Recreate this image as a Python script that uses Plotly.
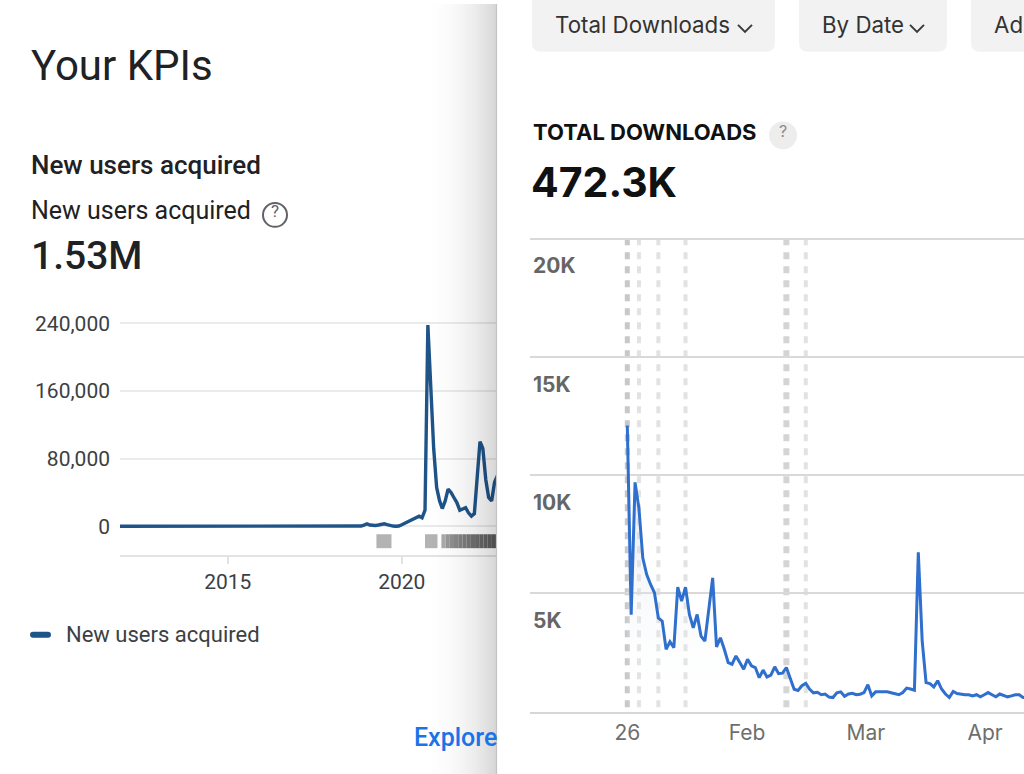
import plotly.graph_objects as go
import pandas as pd

W, H = 1024, 774
def X(px): return px / W
def Y(py): return 1 - py / H
def TY(py): return Y(py - 4)   # text boxes sit ~4px low with yanchor=middle

# ---------------- Left panel data: monthly new users acquired ----------------
nu_dates = ["2011-11-01", "2018-10-01", "2018-11-01", "2018-12-01",
            "2019-01-01", "2019-02-01", "2019-03-01", "2019-04-01", "2019-05-01", "2019-06-01",
            "2019-07-01", "2019-08-01", "2019-09-01", "2019-10-01", "2019-11-01", "2019-12-01",
            "2020-01-01", "2020-02-01", "2020-03-01", "2020-04-01", "2020-05-01", "2020-06-01",
            "2020-07-01", "2020-08-01", "2020-09-01", "2020-10-01", "2020-11-01", "2020-12-01",
            "2021-01-01", "2021-02-01", "2021-03-01", "2021-04-01", "2021-05-01", "2021-06-01",
            "2021-07-01", "2021-08-01", "2021-09-01", "2021-10-01", "2021-11-01", "2021-12-01",
            "2022-01-01", "2022-02-01", "2022-03-01", "2022-04-01", "2022-05-01", "2022-06-01",
            "2022-07-01", "2022-08-01", "2022-09-01", "2022-10-01"]
nu_values = [0, 0, 300, 1500,
             2800, 1500, 1000, 1000, 1500, 2200,
             3000, 2000, 900, 300, 0, 300,
             1800, 3500, 5000, 6500, 8500, 10500,
             12000, 10000, 19000, 238000, 160000, 92000,
             46000, 30000, 21000, 30000, 44000, 40000,
             34000, 28000, 19000, 20000, 22000, 16000,
             12000, 15000, 58000, 100000, 92000, 55000,
             34000, 30000, 52000, 60000]
nu_ytick_vals = [0, 80000, 160000, 240000]
nu_ytick_text = ["0", "80,000", "160,000", "240,000"]
nu_xtick_vals = ["2015-01-01", "2020-01-01"]
nu_xtick_text = ["2015", "2020"]
# data-quality marker bands under the chart
band_starts = ["2019-04-10", "2020-09-01"]
band_ends = ["2019-09-15", "2021-01-10"]
dark_band_start, dark_band_end = "2021-02-20", "2022-10-31"

# ---------------- Right panel data: daily total downloads ----------------
dl_values = [12100, 4100, 9700, 8600, 6500, 5800, 5380, 5030, 3970, 3830,
             2640, 2960, 2710, 5270, 4680, 5270, 4110, 3550, 4110, 3200,
             2990, 4300, 5660, 2740, 3130, 2640, 2080, 2010, 2360, 2080,
             1800, 2220, 1940, 1870, 1440, 1760, 1470, 1550, 1900, 1610,
             1630, 1870, 1400, 950, 900, 1100, 1200, 950, 800, 820,
             720, 750, 620, 600, 800, 840, 650, 750, 780, 720,
             740, 810, 1140, 670, 840, 840, 860, 840, 800, 770,
             720, 810, 1000, 960, 910, 6740, 3000, 1230, 1190, 1050,
             1310, 960, 750, 600, 860, 770, 740, 720, 720, 670,
             720, 630, 720, 810, 720, 630, 750, 700, 630, 670,
             720, 720, 600, 620]
dl_idx = list(range(len(dl_values)))
dl_tick_pos = [0, 30.85, 61.5, 92.2]
dl_tick_text = ["26", "Feb", "Mar", "Apr"]
dl_ytick_vals = [5000, 10000, 15000, 20000]
dl_ytick_text = ["5K", "10K", "15K", "20K"]
dl_events = [0, 3, 8, 15, 41, 46]

# ---------------- pixel geometry helpers ----------------
def nu_val(py): return (525 - py) * 80000 / 68.0
def nu_date(px):
    yr = 2020 + (px - 401.7) / 34.8
    return (pd.Timestamp("2020-01-01") + pd.Timedelta(days=(yr - 2020) * 365.25)).strftime("%Y-%m-%d")
def dl_val(py): return (711.4 - py) * 5000 / 118.85
def dl_x(px): return (px - 627.3) / 3.88

LEFT_FONT = "Roboto"
RIGHT_FONT = "Inter"

fig = go.Figure()
fig.add_trace(go.Scatter(x=nu_dates, y=nu_values, mode="lines",
                         line=dict(color="#1f5489", width=3.4),
                         xaxis="x", yaxis="y", hoverinfo="skip", showlegend=False))
fig.add_trace(go.Scatter(x=dl_idx, y=dl_values, mode="lines",
                         line=dict(color="#2f6fce", width=3),
                         fill="tozeroy",
                         fillgradient=dict(type="vertical", start=0, stop=9000,
                                           colorscale=[[0, "rgba(255,255,255,0)"],
                                                       [1, "rgba(205,215,230,0.45)"]]),
                         xaxis="x2", yaxis="y2", hoverinfo="skip", showlegend=False))

shapes = []
annotations = []

def ann(text, x, y, size, color, family, xanchor="left", weight=None, **kw):
    f = dict(family=family, size=size, color=color)
    if weight is not None:
        f["weight"] = weight
    d = dict(text=text, x=x, y=y, xref=kw.pop("xref", "paper"), yref=kw.pop("yref", "paper"),
             xanchor=xanchor, yanchor="middle", showarrow=False, font=f)
    d.update(kw)
    annotations.append(d)

# --- left: marker bands ---
for s, e in zip(band_starts, band_ends):
    shapes.append(dict(type="rect", xref="x", yref="paper", x0=s, x1=e,
                       y0=Y(547), y1=Y(533), fillcolor="#b3b3b3", line=dict(width=0), layer="above"))
ds, de = pd.Timestamp(dark_band_start), pd.Timestamp(dark_band_end)
nseg = 14
for k in range(nseg):
    a = ds + (de - ds) * k / nseg
    b = ds + (de - ds) * (k + 1) / nseg
    g = int(170 - 80 * min(1, (k / (nseg - 1)) ** 0.6))
    shapes.append(dict(type="rect", xref="x", yref="paper", x0=a, x1=b,
                       y0=Y(547), y1=Y(533), fillcolor=f"rgb({g},{g},{g})",
                       line=dict(width=0), layer="above"))

# --- right: event dashed lines ---
ev_styles = [("#c8c8c8", 5), ("#e2e2e2", 4), ("#e2e2e2", 4), ("#e2e2e2", 4), ("#d4d4d4", 6), ("#e2e2e2", 4)]
for e, (c, w) in zip(dl_events, ev_styles):
    shapes.append(dict(type="line", xref="x2", yref="paper", x0=e, x1=e,
                       y0=Y(707), y1=Y(237), line=dict(color=c, width=w, dash="7px,7px"),
                       layer="below"))

# --- right: buttons ---
def btn(x0, x1, y1=48, r=9):
    p = (f"M {X(x0)},{Y(-6)} L {X(x0)},{Y(y1 - r)} Q {X(x0)},{Y(y1)} {X(x0 + r)},{Y(y1)} "
         f"L {X(x1 - r)},{Y(y1)} Q {X(x1)},{Y(y1)} {X(x1)},{Y(y1 - r)} L {X(x1)},{Y(-6)} Z")
    return dict(type="path", xref="paper", yref="paper", path=p,
                fillcolor="#f2f2f2", line=dict(width=0), layer="below")
shapes += [btn(532, 775), btn(799, 947), btn(971, 1060)]
def chevron(cx):
    p = f"M {X(cx - 7)},{Y(21)} L {X(cx)},{Y(28)} L {X(cx + 7)},{Y(21)}"
    return dict(type="path", xref="paper", yref="paper", path=p,
                line=dict(color="#3a3a3a", width=2), layer="above")
shapes += [chevron(745), chevron(917)]
ann("Total Downloads", X(553), TY(25), 22.3, "#333333", RIGHT_FONT)
ann("By Date", X(820), TY(25), 22.3, "#333333", RIGHT_FONT)
ann("Ad", X(992), TY(25), 22.3, "#333333", RIGHT_FONT)

# --- right header ---
ann("<b>TOTAL DOWNLOADS</b>", X(531), TY(133), 22, "#111111", RIGHT_FONT)
shapes.append(dict(type="circle", xref="paper", yref="paper", x0=X(769), x1=X(797),
                   y0=Y(146), y1=Y(118), fillcolor="#ededed", line=dict(width=0)))
ann("?", X(783), TY(132), 16, "#8a8a8a", RIGHT_FONT, xanchor="center")
ann("<b>472.3K</b>", X(529), TY(183), 41, "#111111", RIGHT_FONT)
for v, t in zip(dl_ytick_vals, dl_ytick_text):
    ann(f"<b>{t}</b>", X(531), v, 21, "#666666", RIGHT_FONT, yref="y2", yshift=-27)

# --- left header ---
ann("Your KPIs", X(29), TY(66), 42, "#202124", LEFT_FONT)
ann("New users acquired", X(29), TY(166), 26, "#202124", LEFT_FONT, weight=500)
ann("New users acquired", X(29), TY(212), 25, "#202124", LEFT_FONT)
shapes.append(dict(type="circle", xref="paper", yref="paper", x0=X(263), x1=X(287),
                   y0=Y(224), y1=Y(200), line=dict(color="#5f6368", width=2)))
ann("?", X(275), TY(212), 17, "#5f6368", LEFT_FONT, xanchor="center")
ann("1.53M", X(29), TY(257), 39, "#202124", LEFT_FONT, weight=500)
# legend
lp = (f"M {X(33)},{Y(631)} L {X(48)},{Y(631)} Q {X(51)},{Y(631)} {X(51)},{Y(634)} "
      f"Q {X(51)},{Y(637)} {X(48)},{Y(637)} L {X(33)},{Y(637)} Q {X(30)},{Y(637)} {X(30)},{Y(634)} "
      f"Q {X(30)},{Y(631)} {X(33)},{Y(631)} Z")
shapes.append(dict(type="path", xref="paper", yref="paper", path=lp,
                   fillcolor="#1f5489", line=dict(width=0)))
ann("New users acquired", X(64), Y(634), 22, "#3c4043", LEFT_FONT)
ann("Explore", X(412), Y(737), 25, "#1a73e8", LEFT_FONT, weight=500)

# --- shadow cast by the right panel onto the left panel ---
x = 420
while x < 496:
    a = 0.16 * ((x + 1 - 420) / 76) ** 2.3
    shapes.append(dict(type="rect", xref="paper", yref="paper", x0=X(x), x1=X(min(x + 2, 496.5)),
                       y0=0, y1=1, fillcolor=f"rgba(0,0,0,{a:.4f})", line=dict(width=0), layer="above"))
    x += 2
shapes.append(dict(type="line", xref="paper", yref="paper", x0=X(496.5), x1=X(496.5), y0=0, y1=1,
                   line=dict(color="#c4c4c4", width=1.2), layer="above"))

fig.update_layout(
    width=W, height=H, margin=dict(l=0, r=0, t=0, b=0),
    paper_bgcolor="white", plot_bgcolor="rgba(0,0,0,0)",
    showlegend=False, shapes=shapes, annotations=annotations,
    xaxis=dict(domain=[X(120), X(496)], type="date", anchor="y",
               range=[nu_date(120), nu_date(496)],
               tickvals=nu_xtick_vals, ticktext=nu_xtick_text,
               showgrid=False, zeroline=False, showline=True, linecolor="#e3e3e3", linewidth=2,
               ticks="outside", ticklen=7, tickwidth=2, tickcolor="#e3e3e3",
               ticklabelstandoff=0,
               tickfont=dict(family=LEFT_FONT, size=21, color="#3c4043"), fixedrange=True),
    yaxis=dict(domain=[Y(554), Y(313)], anchor="x",
               range=[nu_val(554), nu_val(313)],
               tickvals=nu_ytick_vals, ticktext=nu_ytick_text,
               showgrid=True, gridcolor="#ebebeb", gridwidth=1.5, zeroline=False, showline=False,
               ticks="", ticklabelstandoff=9,
               tickfont=dict(family=LEFT_FONT, size=21, color="#3c4043"), fixedrange=True),
    xaxis2=dict(domain=[X(530), 1], anchor="y2",
                range=[dl_x(530), dl_x(1024)],
                tickvals=dl_tick_pos, ticktext=dl_tick_text,
                showgrid=False, zeroline=False, showline=True, linecolor="#d6d6d6", linewidth=1.5,
                ticks="", ticklabelstandoff=1,
                tickfont=dict(family=RIGHT_FONT, size=21, color="#6e6e6e"), fixedrange=True),
    yaxis2=dict(domain=[Y(711.4), Y(234.5)], anchor="x2",
                range=[0, dl_val(234.5)],
                tickvals=[0] + dl_ytick_vals,
                showticklabels=False, showgrid=True, gridcolor="#d9d9d9", gridwidth=1.5,
                zeroline=False, showline=False, ticks="", fixedrange=True),
)

fig.write_html("out.html")
